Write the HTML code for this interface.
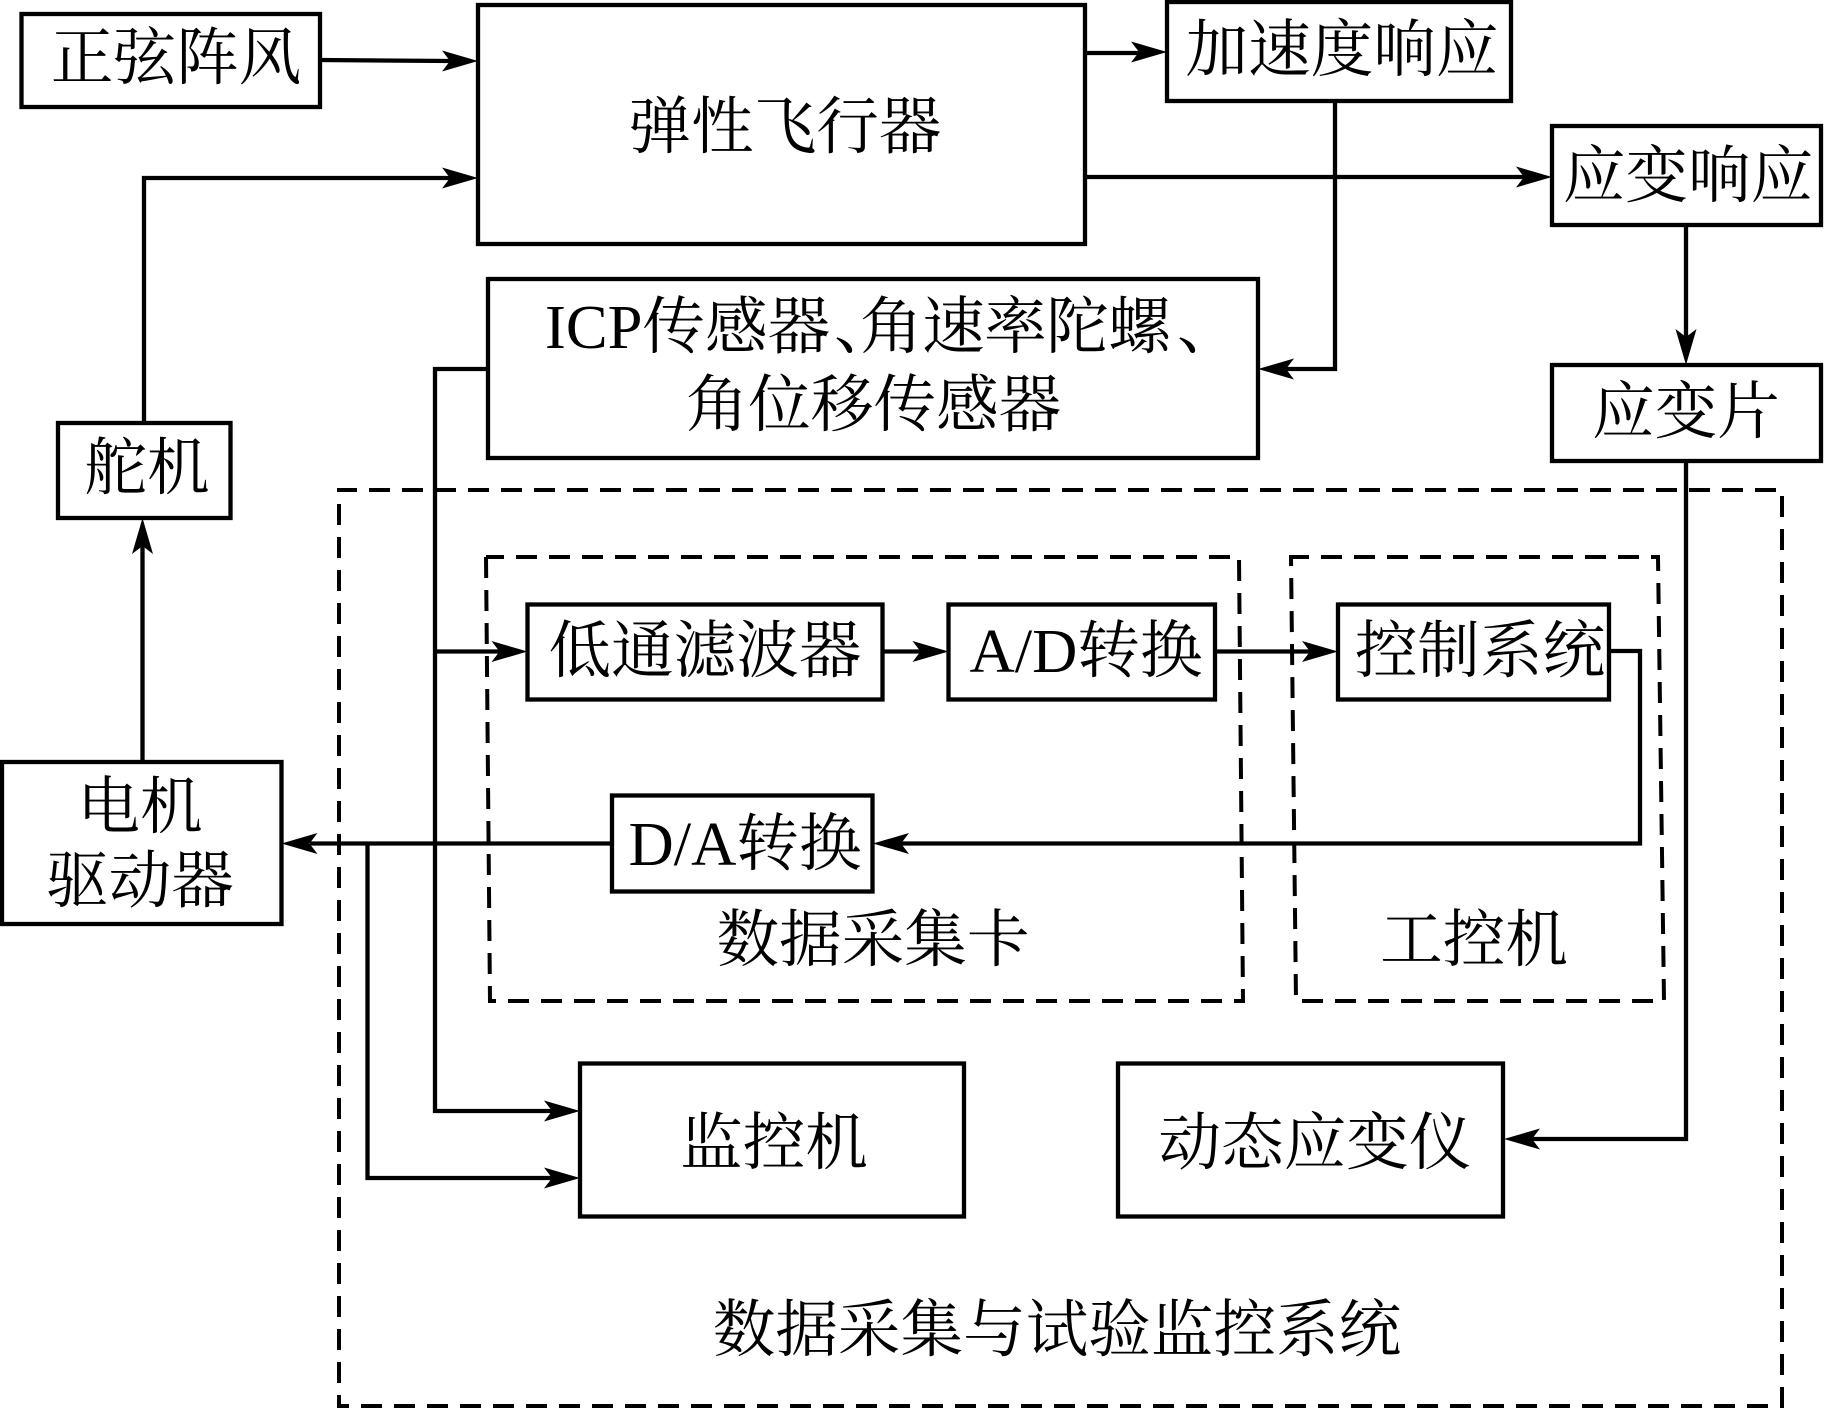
<!DOCTYPE html>
<html lang="zh">
<head>
<meta charset="utf-8">
<title>数据采集与试验监控系统</title>
<style>
html,body{margin:0;padding:0;background:#fff;width:1824px;height:1411px;overflow:hidden}
svg{display:block}
text{font-family:"Liberation Serif","Noto Serif CJK SC",serif;font-size:62.6px;fill:#000;text-anchor:middle}
.b{fill:none;stroke:#000;stroke-width:4.300}
.l{fill:none;stroke:#000;stroke-width:4.300}
.d{fill:none;stroke:#000;stroke-width:4;stroke-dasharray:21 12;stroke-dashoffset:3}
.a{fill:#000;stroke:none}
</style>
</head>
<body>
<svg width="1824" height="1411" viewBox="0 0 1824 1411" xmlns="http://www.w3.org/2000/svg">
<rect width="1824" height="1411" fill="#fff"/>

<!-- dashed groups -->
<path class="d" d="M339 490H1782V1406H339Z"/>
<path class="d" d="M486 557H1239L1243 1001H490Z"/>
<path class="d" d="M1291 557H1658L1664 1001H1296Z"/>

<!-- connectors -->
<path class="l" d="M320 60L450 61"/>
<path class="l" d="M144 423V178H450"/>
<path class="l" d="M142.500 762V540"/>
<path class="l" d="M1085 53H1140"/>
<path class="l" d="M1085 177H1525"/>
<path class="l" d="M1335 101V369H1285"/>
<path class="l" d="M1686 225V340"/>
<path class="l" d="M1686 461V1139H1530"/>
<path class="l" d="M489 369H435V1111H555"/>
<path class="l" d="M435 651.500H505"/>
<path class="l" d="M882 651.500H925"/>
<path class="l" d="M1215 651.500H1315"/>
<path class="l" d="M1609 651V651H1640V843.500H900"/>
<path class="l" d="M612 843.500H310"/>
<path class="l" d="M367.500 843.500V1178H555"/>

<!-- arrowheads -->
<polygon class="a" points="478,61 442,50.500 450,61 442,71.500"/>
<polygon class="a" points="478,178 442,167.500 450,178 442,188.500"/>
<polygon class="a" points="142.500,518 132,554 142.500,546 153,554"/>
<polygon class="a" points="1167,52 1131,41.500 1139,52 1131,62.500"/>
<polygon class="a" points="1552,177 1516,166.500 1524,177 1516,187.500"/>
<polygon class="a" points="1258,369 1294,358.500 1286,369 1294,379.500"/>
<polygon class="a" points="1686,365 1675.500,329 1686,337 1696.500,329"/>
<polygon class="a" points="1504,1139 1540,1128.500 1532,1139 1540,1149.500"/>
<polygon class="a" points="527.500,651.500 491.500,641 499.500,651.500 491.500,662"/>
<polygon class="a" points="948.500,651.500 912.500,641 920.500,651.500 912.500,662"/>
<polygon class="a" points="1338,651.500 1302,641 1310,651.500 1302,662"/>
<polygon class="a" points="873,843.500 909,833 901,843.500 909,854"/>
<polygon class="a" points="281.500,843.500 317.500,833 309.500,843.500 317.500,854"/>
<polygon class="a" points="580,1111 544,1100.500 552,1111 544,1121.500"/>
<polygon class="a" points="580,1178 544,1167.500 552,1178 544,1188.500"/>

<!-- boxes -->
<rect class="b" x="21.500" y="14" width="298.500" height="93"/>
<rect class="b" x="478" y="5" width="607" height="239"/>
<rect class="b" x="1167" y="2" width="344" height="99"/>
<rect class="b" x="1552" y="126" width="269" height="99"/>
<rect class="b" x="488" y="279" width="770" height="179"/>
<rect class="b" x="1552" y="365" width="269" height="96"/>
<rect class="b" x="58" y="423" width="172.500" height="95"/>
<rect class="b" x="527.500" y="604.500" width="355" height="95"/>
<rect class="b" x="948.500" y="604.500" width="266.500" height="95"/>
<rect class="b" x="1338" y="604.500" width="271" height="95"/>
<rect class="b" x="612" y="795.500" width="260.500" height="96"/>
<rect class="b" x="2" y="762" width="279.500" height="162"/>
<rect class="b" x="580" y="1063.500" width="384" height="153"/>
<rect class="b" x="1118" y="1063.500" width="385" height="153"/>

<!-- labels -->
<text x="176" y="79">正弦阵风</text>
<text x="785" y="148">弹性飞行器</text>
<text x="1342" y="71">加速度响应</text>
<text x="1688" y="197">应变响应</text>
<text x="545" y="348" style="text-anchor:start">ICP传感器</text>
<text x="834" y="348" style="text-anchor:start">、</text>
<text x="860" y="348" style="text-anchor:start;letter-spacing:-0.5px">角速率陀螺</text>
<text x="1177" y="348" style="text-anchor:start">、</text>
<text x="873.500" y="426">角位移传感器</text>
<text x="147" y="489">舵机</text>
<text x="1686" y="433">应变片</text>
<text x="705" y="672">低通滤波器</text>
<text x="1086" y="672">A/D转换</text>
<text x="1480" y="672">控制系统</text>
<text x="140" y="828">电机</text>
<text x="140" y="902">驱动器</text>
<text x="745" y="865">D/A转换</text>
<text x="873" y="961">数据采集卡</text>
<text x="1474" y="961">工控机</text>
<text x="774" y="1164">监控机</text>
<text x="1315" y="1164">动态应变仪</text>
<text x="1057" y="1351">数据采集与试验监控系统</text>
</svg>
</body>
</html>
